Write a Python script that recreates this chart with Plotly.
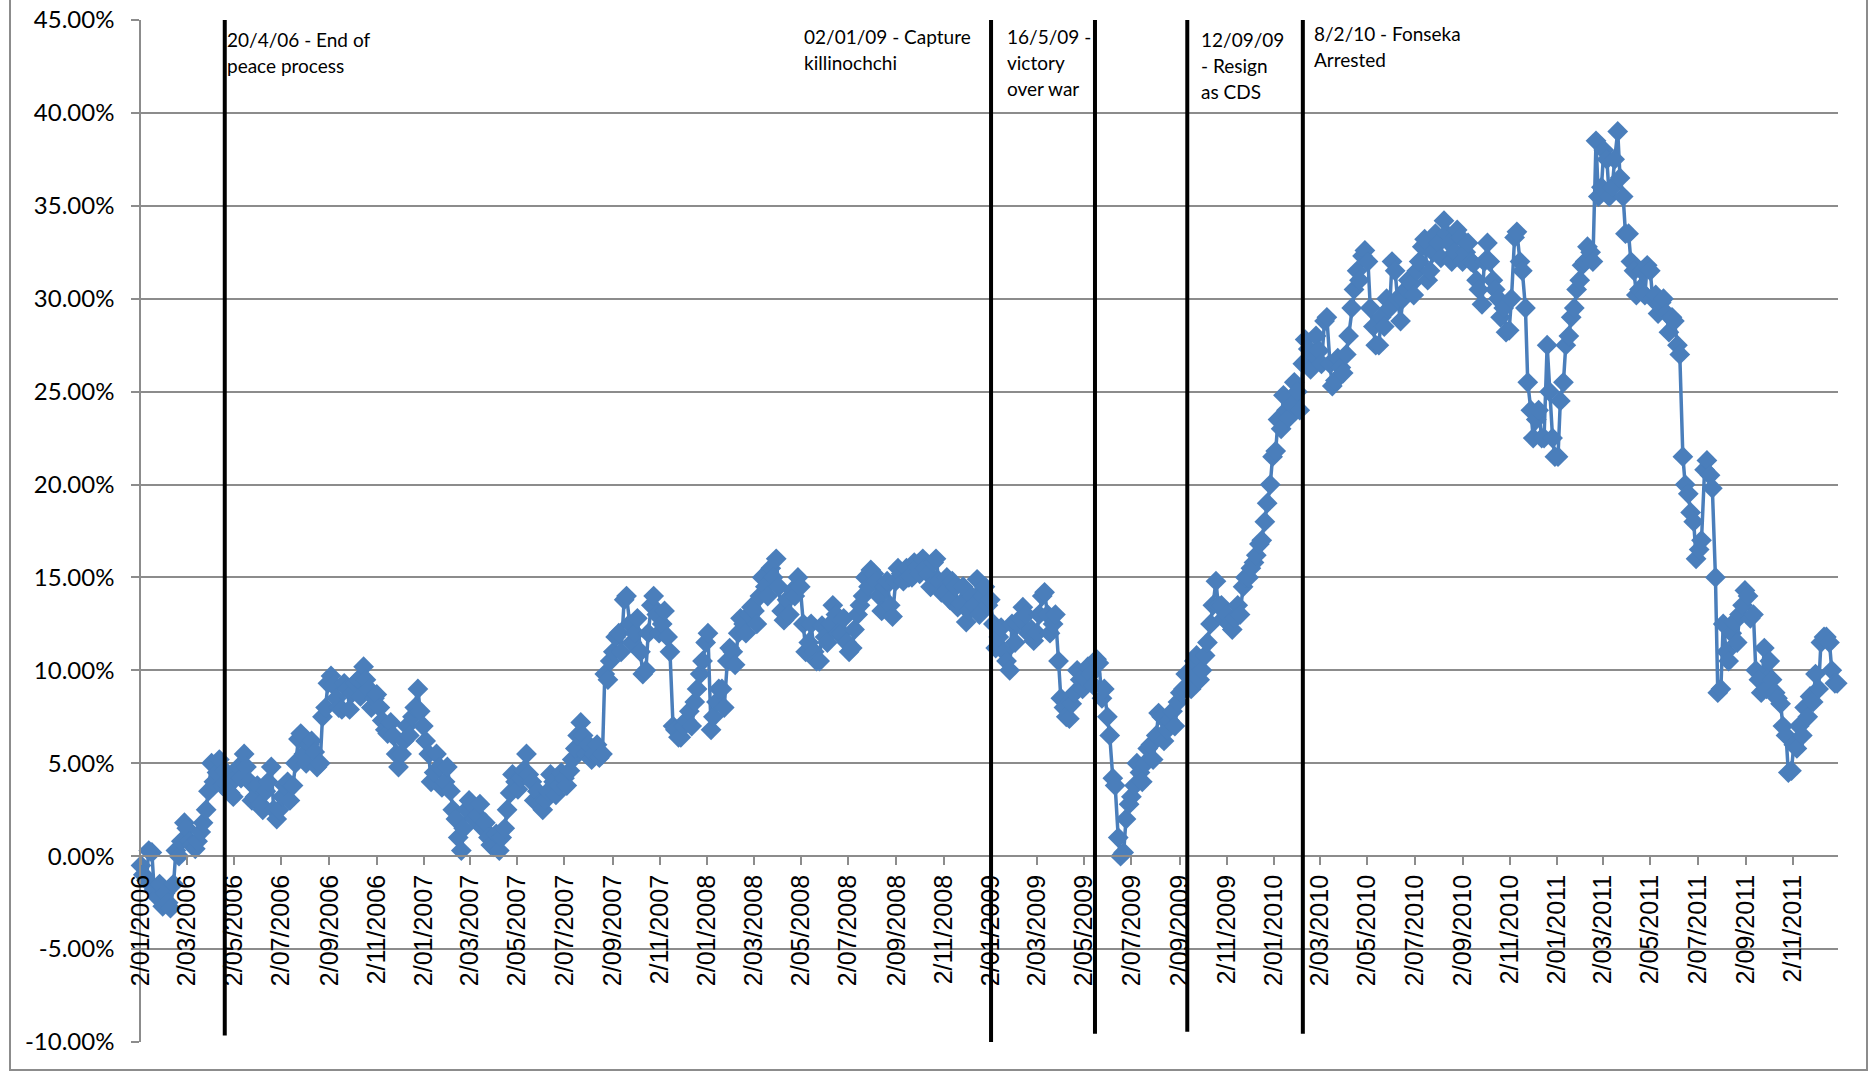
import pandas as pd
import plotly.graph_objects as go

# Twice-weekly readings of the cumulative change, in percent.
# *_MON: Monday of each week, *_THU: Thursday of each week.
VALUES_2006_MON = [-0.5, -1.3, 0.2, -2.2, -2.7,
                   -2.5, -1.5, 0.0, 1.8,
                   0.8, 0.4, 1.3, 2.5,
                   5.0, 4.5, 3.8, 3.8,
                   3.2, 4.8, 5.5, 4.0, 3.2,
                   2.8, 3.5, 4.8, 2.0,
                   3.2, 4.0, 3.8, 6.3, 5.5,
                   6.0, 5.6, 5.0, 8.0,
                   9.7, 8.5, 7.9, 9.0,
                   8.8, 9.5, 10.2, 9.0, 8.5,
                   8.0, 6.8, 7.2, 5.5,
                   5.5, 7.0, 7.5, 9.0]
VALUES_2006_THU = [-1.0, 0.3, -1.8, -1.5,
                   -2.0, -2.8, 0.3, 0.8,
                   1.5, 0.6, 0.8, 1.8, 3.5,
                   4.0, 5.2, 4.6, 3.4,
                   4.2, 4.2, 4.8, 3.0,
                   3.8, 2.5, 4.0, 2.5, 2.5,
                   3.8, 3.0, 5.0, 6.6,
                   5.0, 6.2, 4.8, 7.5, 9.3,
                   9.2, 8.0, 9.3, 7.9,
                   9.3, 8.6, 9.5, 8.0,
                   8.7, 7.3, 6.6, 6.5, 4.8,
                   6.2, 6.5, 8.0, 7.8]

VALUES_2007_MON = [7.0, 5.5, 4.5, 4.8, 4.0,
                   3.5, 2.0, 0.3, 2.5,
                   2.8, 2.2, 1.5, 1.0,
                   0.5, 0.3, 1.5, 3.4, 4.0,
                   4.2, 5.5, 4.0, 3.5,
                   2.5, 3.5, 4.0, 3.8,
                   4.2, 4.6, 5.8, 7.2, 5.5,
                   5.2, 6.0, 5.5, 9.5,
                   11.0, 12.0, 13.8, 12.5,
                   12.0, 11.0, 10.0, 13.5, 13.0,
                   12.5, 11.8, 7.0, 6.4,
                   7.0, 7.8, 8.3, 9.8, 11.5]
VALUES_2007_THU = [6.2, 4.0, 5.5, 3.7,
                   4.8, 2.5, 1.0, 1.5,
                   3.0, 2.0, 2.8, 1.8, 0.6,
                   1.2, 1.0, 2.5, 4.4,
                   3.6, 4.6, 4.4, 3.0, 2.8,
                   3.0, 4.4, 3.3, 4.5,
                   3.8, 5.2, 6.5, 6.5,
                   6.0, 5.5, 5.3, 9.8, 10.5,
                   11.8, 11.0, 14.0, 11.5,
                   12.8, 9.8, 12.0, 14.0,
                   12.0, 13.2, 11.0, 6.8, 6.4,
                   7.3, 7.0, 9.0, 10.5]

VALUES_2008_MON = [6.8, 8.3, 9.0, 10.5,
                   11.0, 12.0, 12.5, 13.0,
                   13.2, 14.0, 14.5, 15.5, 16.0,
                   13.2, 13.8, 14.3, 15.0,
                   12.5, 11.5, 11.0, 10.5,
                   11.8, 12.5, 13.0, 12.0, 11.5,
                   11.2, 13.0, 14.0, 14.5,
                   15.2, 14.0, 14.5, 13.5,
                   14.8, 15.2, 15.5, 15.0, 15.6,
                   16.0, 15.2, 15.8, 14.8,
                   14.2, 13.8, 14.5, 13.6,
                   12.6, 14.0, 14.9, 14.0, 13.5]
VALUES_2008_THU = [12.0, 7.5, 9.0, 8.0, 11.2,
                   10.3, 12.8, 12.0, 13.4,
                   12.5, 15.0, 14.0, 15.0,
                   14.5, 12.7, 13.0, 14.0,
                   14.5, 11.0, 12.5, 10.5, 12.4,
                   11.5, 13.5, 12.0, 12.8,
                   11.0, 12.2, 13.5, 15.0, 15.4,
                   14.8, 13.2, 14.8, 12.9,
                   15.5, 14.8, 15.0, 15.8,
                   15.2, 15.5, 14.5, 16.0, 14.2,
                   15.0, 14.8, 13.4, 14.5,
                   13.2, 13.5, 13.0, 14.5]

VALUES_2009_MON = [12.5, 11.8, 11.0, 10.0,
                   11.5, 12.8, 13.0, 12.2,
                   12.0, 14.0, 13.0, 12.5, 10.5,
                   8.0, 7.4, 8.8, 9.5,
                   9.5, 9.8, 10.6, 8.5,
                   7.5, 4.2, 1.0, 0.2, 2.8,
                   3.8, 4.5, 5.0, 6.0,
                   6.5, 7.5, 6.8, 7.8, 8.3,
                   9.0, 9.8, 10.5, 9.5,
                   10.8, 12.5, 14.8, 13.5,
                   13.0, 12.2, 13.5, 14.5, 15.0,
                   15.8, 16.8, 18.0, 20.0]
VALUES_2009_THU = [13.8, 11.2, 12.3, 10.5, 12.5,
                   12.5, 13.4, 12.0, 11.6,
                   13.0, 14.2, 12.0, 13.0,
                   8.5, 7.5, 8.2, 10.0, 9.0,
                   10.2, 9.2, 10.4, 9.0,
                   6.5, 3.8, 0.0, 2.0,
                   3.2, 5.0, 4.0, 5.8, 5.2,
                   7.7, 6.2, 7.3, 7.0,
                   8.8, 9.8, 9.0, 10.8,
                   10.0, 11.5, 13.5, 13.5, 12.8,
                   12.5, 12.8, 13.0, 15.0,
                   15.5, 16.2, 17.0, 19.0, 21.5]

VALUES_2010_MON = [21.8, 23.0, 24.0, 24.3,
                   25.0, 26.5, 27.3, 27.0,
                   27.2, 28.8, 26.5, 25.6, 26.3,
                   27.0, 29.5, 31.5, 32.3,
                   32.0, 28.5, 27.5, 28.5, 29.5,
                   31.5, 28.8, 30.5, 30.8,
                   31.5, 32.8, 31.0, 32.5,
                   33.0, 34.2, 33.0, 32.5, 33.3,
                   32.5, 32.0, 31.0, 29.7,
                   33.0, 31.0, 30.0, 29.5,
                   28.3, 33.3, 32.0, 29.5, 24.0,
                   23.5, 22.5, 27.5, 22.5]
VALUES_2010_THU = [23.5, 24.8, 23.6, 25.5,
                   24.0, 27.8, 26.2, 28.0,
                   26.5, 29.0, 25.3, 26.8,
                   26.0, 28.0, 30.5, 31.0, 32.6,
                   29.5, 27.5, 29.0, 30.0,
                   32.0, 30.0, 30.0, 31.0,
                   30.2, 32.0, 33.2, 31.5, 33.5,
                   32.2, 33.5, 32.0, 33.7,
                   32.0, 33.0, 31.9, 30.5, 32.0,
                   32.0, 30.5, 29.0, 28.2,
                   30.0, 33.6, 31.5, 25.5,
                   22.5, 24.0, 22.5, 25.0, 21.5]

VALUES_2011_MON = [21.5, 25.5, 28.0, 29.5, 31.0,
                   32.0, 32.5, 38.5, 36.0,
                   37.5, 36.0, 39.0, 35.5,
                   33.5, 31.5, 30.5, 30.2,
                   31.5, 30.2, 29.8, 29.2, 29.0,
                   27.5, 21.5, 19.5, 18.0,
                   16.5, 20.8, 20.5, 15.0,
                   9.0, 11.0, 12.0, 11.5, 13.5,
                   14.0, 13.0, 9.5, 11.2,
                   10.5, 8.8, 8.2, 6.5, 4.6,
                   5.8, 6.5, 7.5, 8.3,
                   9.0, 11.8, 11.5, 9.3]
VALUES_2011_THU = [24.5, 27.5, 29.0, 30.5,
                   31.8, 32.8, 32.0, 35.5,
                   38.0, 35.5, 37.5, 36.5, 33.5,
                   32.0, 30.2, 31.5, 31.8,
                   30.0, 29.2, 30.0, 28.2,
                   28.8, 27.0, 20.0, 18.5, 16.0,
                   17.0, 21.3, 19.8, 8.8,
                   12.5, 10.5, 12.6, 13.0,
                   14.3, 12.8, 10.0, 8.8, 9.0,
                   9.5, 8.5, 7.0, 4.5,
                   6.0, 7.0, 8.0, 8.6,
                   9.8, 11.5, 11.8, 10.0, 9.3]

READINGS = {
    2006: (VALUES_2006_MON, VALUES_2006_THU),
    2007: (VALUES_2007_MON, VALUES_2007_THU),
    2008: (VALUES_2008_MON, VALUES_2008_THU),
    2009: (VALUES_2009_MON, VALUES_2009_THU),
    2010: (VALUES_2010_MON, VALUES_2010_THU),
    2011: (VALUES_2011_MON, VALUES_2011_THU),
}

TICK_LABELS = [
    "2/01/2006", "2/03/2006", "2/05/2006", "2/07/2006", "2/09/2006", "2/11/2006",
    "2/01/2007", "2/03/2007", "2/05/2007", "2/07/2007", "2/09/2007", "2/11/2007",
    "2/01/2008", "2/03/2008", "2/05/2008", "2/07/2008", "2/09/2008", "2/11/2008",
    "2/01/2009", "2/03/2009", "2/05/2009", "2/07/2009", "2/09/2009", "2/11/2009",
    "2/01/2010", "2/03/2010", "2/05/2010", "2/07/2010", "2/09/2010", "2/11/2010",
    "2/01/2011", "2/03/2011", "2/05/2011", "2/07/2011", "2/09/2011", "2/11/2011",
]

Y_TICKS = [-10, -5, 0, 5, 10, 15, 20, 25, 30, 35, 40, 45]
Y_LABELS = ["-10.00%", "-5.00%", "0.00%", "5.00%", "10.00%", "15.00%",
            "20.00%", "25.00%", "30.00%", "35.00%", "40.00%", "45.00%"]

EVENT_DATES = ["2006-04-20", "2009-01-02", "2009-05-16", "2009-09-12", "2010-02-08"]
EVENT_TEXT = [
    ["20/4/06 - End of", "peace process"],
    ["02/01/09 - Capture", "killinochchi"],
    ["16/5/09 -", "victory", "over war"],
    ["12/09/09", "- Resign", "as CDS"],
    ["8/2/10 - Fonseka", "Arrested"],
]

# drawing style for the event lines and their labels
LINE_BOTTOM = [-9.65, -10.1, -9.55, -9.45, -9.55]
LABEL_XSHIFT = [0, -189, -90, 12, 9]
LABEL_TOP = [39, 36, 36, 39, 33]
LINE_STEP = 26

# ---- assemble the series ----
parts = []
for year, (mon_vals, thu_vals) in READINGS.items():
    mondays = pd.date_range(f"{year}-01-01", f"{year}-12-31", freq="W-MON")
    thursdays = pd.date_range(f"{year}-01-01", f"{year}-12-31", freq="W-THU")
    assert len(mondays) == len(mon_vals), (year, "mon", len(mondays), len(mon_vals))
    assert len(thursdays) == len(thu_vals), (year, "thu", len(thursdays), len(thu_vals))
    parts.append(pd.DataFrame({"date": mondays, "value": mon_vals}))
    parts.append(pd.DataFrame({"date": thursdays, "value": thu_vals}))
series = pd.concat(parts).sort_values("date").reset_index(drop=True)

tick_dates = pd.to_datetime(TICK_LABELS, format="%d/%m/%Y")

W, H = 1874, 1073
M_L, M_R, M_T, M_B = 141, 36, 20, 31
PW, PH = W - M_L - M_R, H - M_T - M_B
Y_MIN, Y_MAX = -10, 45

BLUE = "#4A7EBB"
GRID = "#8C8C8C"

fig = go.Figure()
fig.add_trace(go.Scatter(
    x=series["date"], y=series["value"], mode="lines+markers",
    line=dict(color=BLUE, width=3.5),
    marker=dict(symbol="diamond", size=16, color=BLUE, line=dict(width=0)),
    cliponaxis=False, showlegend=False,
))

# event markers
for d, bottom in zip(EVENT_DATES, LINE_BOTTOM):
    fig.add_shape(type="line", xref="x", yref="y", x0=d, x1=d, y0=bottom, y1=45.2,
                  line=dict(color="black", width=4), layer="above")

for d, lines, dx, top in zip(EVENT_DATES, EVENT_TEXT, LABEL_XSHIFT, LABEL_TOP):
    for i, txt in enumerate(lines):
        fig.add_annotation(
            x=d, xref="x", y=1, yref="paper",
            text=txt, showarrow=False, xanchor="left", yanchor="middle",
            xshift=dx, yshift=M_T - (top + i * LINE_STEP),
            font=dict(family="Lato", size=19, color="black"),
        )

# chart border
fig.add_shape(type="rect", xref="paper", yref="paper",
              x0=(10 - M_L) / PW, x1=(1867 - M_L) / PW,
              y0=(M_T + PH - 1070) / PH, y1=(M_T + PH + 2) / PH,
              line=dict(color=GRID, width=2), fillcolor="rgba(0,0,0,0)", layer="below")

fig.update_layout(
    width=W, height=H,
    margin=dict(l=M_L, r=M_R, t=M_T, b=M_B, autoexpand=False),
    paper_bgcolor="white", plot_bgcolor="white",
    xaxis=dict(
        type="date", range=["2006-01-02", "2011-12-30"],
        tickvals=tick_dates, ticktext=TICK_LABELS, tickangle=-90,
        anchor="free", position=(0 - Y_MIN) / (Y_MAX - Y_MIN),
        showgrid=False, zeroline=False,
        showline=True, linecolor=GRID, linewidth=1.5,
        ticks="outside", ticklen=8, tickcolor=GRID, tickwidth=1.5,
        tickfont=dict(family="Liberation Sans", size=25, color="black"),
    ),
    yaxis=dict(
        range=[Y_MIN, Y_MAX], tickvals=Y_TICKS, ticktext=Y_LABELS,
        showgrid=True, gridcolor=GRID, gridwidth=1.5, zeroline=False,
        showline=True, linecolor=GRID, linewidth=1.5,
        ticks="outside", ticklen=8, tickcolor=GRID, tickwidth=1.5,
        ticklabelstandoff=12,
        tickfont=dict(family="Lato", size=24, color="black"),
    ),
)

fig.write_html("out.html")
